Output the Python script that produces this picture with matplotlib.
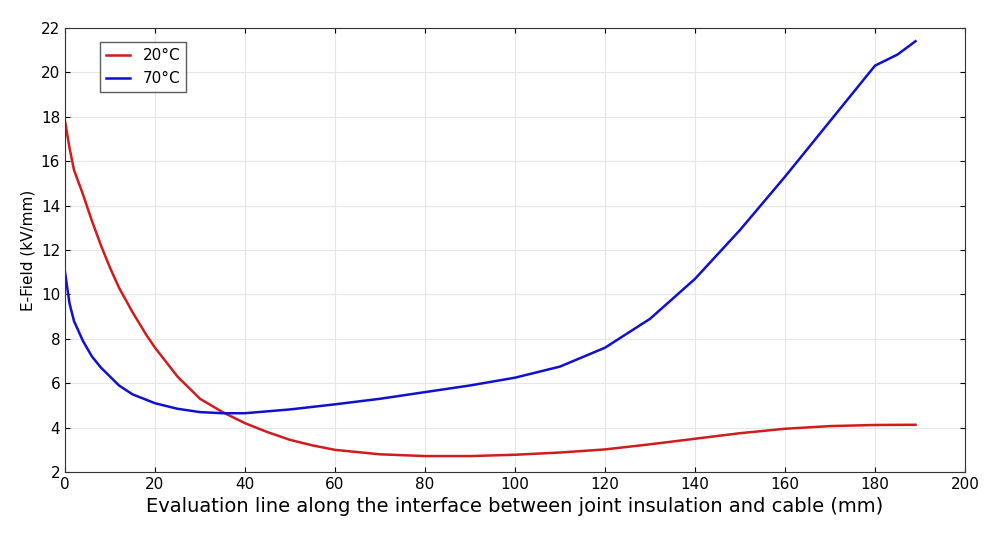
import matplotlib
matplotlib.use("Agg")
import matplotlib.pyplot as plt

x20 = [0,1,2,4,6,8,10,12,15,18,20,25,30,35,40,45,50,55,60,70,80,90,100,110,120,130,140,150,160,170,180,189]
y20 = [17.8,16.6,15.6,14.5,13.3,12.2,11.2,10.3,9.2,8.2,7.6,6.3,5.3,4.7,4.2,3.8,3.45,3.2,3.0,2.8,2.72,2.72,2.78,2.88,3.02,3.25,3.5,3.75,3.95,4.07,4.12,4.13]
x70 = [0,1,2,4,6,8,10,12,15,20,25,30,35,40,50,60,70,80,90,100,110,120,130,140,150,160,170,180,185,189]
y70 = [11.0,9.6,8.8,7.9,7.2,6.7,6.3,5.9,5.5,5.1,4.85,4.7,4.65,4.65,4.82,5.05,5.3,5.6,5.9,6.25,6.75,7.6,8.9,10.7,12.9,15.3,17.8,20.3,20.8,21.4]
xticks = list(range(0, 201, 20))
yticks = list(range(2, 23, 2))

fig = plt.figure(figsize=(10, 5.58), dpi=100)
ax = fig.add_axes([0.065, 0.154, 0.9, 0.796])
ax.plot(x20, y20, color="#d01c1c", lw=1.8, label="20°C")
ax.plot(x70, y70, color="#1010d0", lw=1.8, label="70°C")
ax.set_xlim(0, 200); ax.set_ylim(2, 22)
ax.set_xticks(xticks); ax.set_yticks(yticks)
ax.grid(True, color="#e6e6e6", lw=0.8)
ax.tick_params(direction="in", labelsize=11, top=True, right=True)
for s in ax.spines.values():
    s.set_color("#333333"); s.set_linewidth(0.8)
ax.set_xlabel("Evaluation line along the interface between joint insulation and cable (mm)", fontsize=14)
ax.set_ylabel("E-Field (kV/mm)", fontsize=11)
leg = ax.legend(loc="upper left", bbox_to_anchor=(0.03, 0.985), fontsize=11, fancybox=False, edgecolor="#333333", handlelength=1.6)
fig.savefig("out.png")
